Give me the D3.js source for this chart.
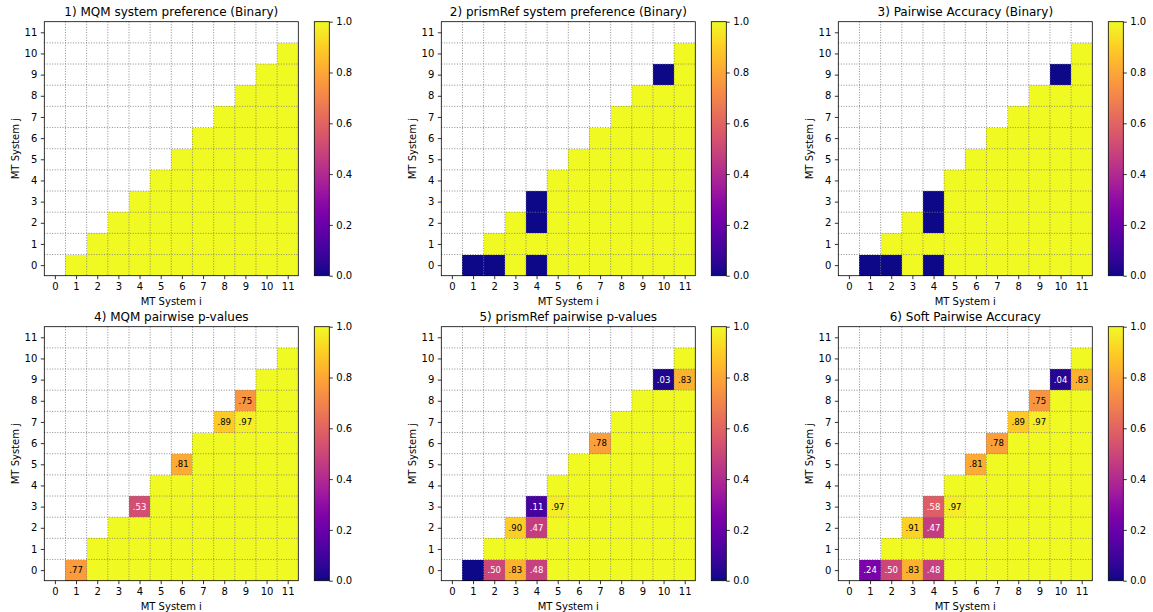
<!DOCTYPE html>
<html>
<head>
<meta charset="utf-8">
<script src="https://cdn.jsdelivr.net/npm/d3@7"></script>
<style>
  body { margin: 0; background: #fff; }
  svg { display: block; }
  text { font-family: "DejaVu Sans", sans-serif; fill: #000; }
</style>
</head>
<body>
<svg id="chart" width="1153" height="612"></svg>
<script>
// ---------------- DATA ----------------
// Each panel: rows j = 0..10; row j holds values for i = j+1 .. 11
const tickLabels = ["0","1","2","3","4","5","6","7","8","9","10","11"];
const colorbarTicks = [0.0, 0.2, 0.4, 0.6, 0.8, 1.0];
const titles = [
  "1) MQM system preference (Binary)",
  "2) prismRef system preference (Binary)",
  "3) Pairwise Accuracy (Binary)",
  "4) MQM pairwise p-values",
  "5) prismRef pairwise p-values",
  "6) Soft Pairwise Accuracy"
];
const xLabel = "MT System i";
const yLabel = "MT System j";

const mqmBinary = [
  [1,1,1,1,1,1,1,1,1,1,1],
  [1,1,1,1,1,1,1,1,1,1],
  [1,1,1,1,1,1,1,1,1],
  [1,1,1,1,1,1,1,1],
  [1,1,1,1,1,1,1],
  [1,1,1,1,1,1],
  [1,1,1,1,1],
  [1,1,1,1],
  [1,1,1],
  [1,1],
  [1]
];
const prismBinary = [
  [0,0,1,0,1,1,1,1,1,1,1],
  [1,1,1,1,1,1,1,1,1,1],
  [1,0,1,1,1,1,1,1,1],
  [0,1,1,1,1,1,1,1],
  [1,1,1,1,1,1,1],
  [1,1,1,1,1,1],
  [1,1,1,1,1],
  [1,1,1,1],
  [1,1,1],
  [0,1],
  [1]
];
const pairwiseBinary = [
  [0,0,1,0,1,1,1,1,1,1,1],
  [1,1,1,1,1,1,1,1,1,1],
  [1,0,1,1,1,1,1,1,1],
  [0,1,1,1,1,1,1,1],
  [1,1,1,1,1,1,1],
  [1,1,1,1,1,1],
  [1,1,1,1,1],
  [1,1,1,1],
  [1,1,1],
  [0,1],
  [1]
];
const mqmPValues = [
  [0.77,1,1,1,1,1,1,1,1,1,1],
  [1,1,1,1,1,1,1,1,1,1],
  [1,1,1,1,1,1,1,1,1],
  [0.53,1,1,1,1,1,1,1],
  [1,1,1,1,1,1,1],
  [0.81,1,1,1,1,1],
  [1,1,1,1,1],
  [0.89,0.97,1,1],
  [0.75,1,1],
  [1,1],
  [1]
];
const prismPValues = [
  [0.00,0.50,0.83,0.48,1,1,1,1,1,1,1],
  [1,1,1,1,1,1,1,1,1,1],
  [0.90,0.47,1,1,1,1,1,1,1],
  [0.11,0.97,1,1,1,1,1,1],
  [1,1,1,1,1,1,1],
  [1,1,1,1,1,1],
  [0.78,1,1,1,1],
  [1,1,1,1],
  [1,1,1],
  [0.03,0.83],
  [1]
];
const softPairwise = [
  [0.24,0.50,0.83,0.48,1,1,1,1,1,1,1],
  [1,1,1,1,1,1,1,1,1,1],
  [0.91,0.47,1,1,1,1,1,1,1],
  [0.58,0.97,1,1,1,1,1,1],
  [1,1,1,1,1,1,1],
  [0.81,1,1,1,1,1],
  [0.78,1,1,1,1],
  [0.89,0.97,1,1],
  [0.75,1,1],
  [0.04,0.83],
  [1]
];
const panelData = [mqmBinary, prismBinary, pairwiseBinary, mqmPValues, prismPValues, softPairwise];
const annotate = [false, false, false, true, true, true];

// ---------------- LAYOUT ----------------
const svg = d3.select("#chart");
const plotSize = 254;
const lefts = [44.3, 441.3, 838.3];
const tops = [21.7, 326.7];
const cbGap = 16, cbWidth = 15;
const color = d3.scaleSequential(d3.interpolatePlasma).domain([0, 1]);

// gradient for colorbar
const defs = svg.append("defs");
const grad = defs.append("linearGradient").attr("id", "plasmaGrad")
  .attr("x1", 0).attr("y1", 1).attr("x2", 0).attr("y2", 0);
d3.range(0, 1.0001, 0.02).forEach(t => {
  grad.append("stop").attr("offset", t).attr("stop-color", color(t));
});

function fmt(v) {
  return d3.format(".2f")(v).replace(/^0/, "");
}

panelData.forEach((rows, p) => {
  const left = lefts[p % 3], top = tops[Math.floor(p / 3)];
  const g = svg.append("g").attr("transform", `translate(${left},${top})`);
  const x = d3.scaleLinear().domain([-0.5, 11.5]).range([0, plotSize]);
  const y = d3.scaleLinear().domain([-0.5, 11.5]).range([plotSize, 0]);

  const cells = [];
  rows.forEach((row, j) => row.forEach((v, k) => cells.push({ i: j + 1 + k, j: j, v: v })));

  g.selectAll("rect.cell").data(cells).enter().append("rect")
    .attr("class", "cell")
    .attr("x", d => x(d.i - 0.5))
    .attr("y", d => y(d.j + 0.5))
    .attr("width", d => x(d.i + 0.5) - x(d.i - 0.5))
    .attr("height", d => y(d.j - 0.5) - y(d.j + 0.5))
    .attr("fill", d => color(d.v))
    .attr("shape-rendering", "crispEdges");

  // dotted grid at cell boundaries
  const bounds = d3.range(0, 11).map(k => k + 0.5);
  g.selectAll("line.gx").data(bounds).enter().append("line")
    .attr("x1", d => x(d)).attr("x2", d => x(d))
    .attr("y1", 0).attr("y2", plotSize)
    .attr("stroke", "#808080").attr("stroke-width", 0.9)
    .attr("stroke-dasharray", "1,1.6");
  g.selectAll("line.gy").data(bounds).enter().append("line")
    .attr("y1", d => y(d)).attr("y2", d => y(d))
    .attr("x1", 0).attr("x2", plotSize)
    .attr("stroke", "#808080").attr("stroke-width", 0.9)
    .attr("stroke-dasharray", "1,1.6");

  if (annotate[p]) {
    g.selectAll("text.ann").data(cells.filter(d => d.v > 0.005 && d.v < 0.995)).enter().append("text")
      .attr("x", d => x(d.i))
      .attr("y", d => y(d.j))
      .attr("dy", "0.35em")
      .attr("text-anchor", "middle")
      .style("font-size", "8.5px")
      .style("fill", d => d.v < 0.65 ? "#ffffff" : "#000000")
      .text(d => fmt(d.v));
  }

  // frame
  g.append("rect").attr("x", 0).attr("y", 0).attr("width", plotSize).attr("height", plotSize)
    .attr("fill", "none").attr("stroke", "#000").attr("stroke-width", 0.8);

  // axes
  const xAxis = d3.axisBottom(x).tickValues(d3.range(12)).tickFormat((d, k) => tickLabels[k])
    .tickSize(3.5).tickPadding(3.5);
  const yAxis = d3.axisLeft(y).tickValues(d3.range(12)).tickFormat((d, k) => tickLabels[k])
    .tickSize(3.5).tickPadding(3.5);
  const gx = g.append("g").attr("transform", `translate(0,${plotSize})`).call(xAxis);
  const gy = g.append("g").call(yAxis);
  [gx, gy].forEach(a => {
    a.select(".domain").remove();
    a.selectAll(".tick line").attr("stroke", "#000").attr("stroke-width", 0.8);
    a.selectAll(".tick text").style("font-size", "10px").style("font-family", "DejaVu Sans").attr("fill", "#000");
  });

  // labels
  g.append("text").attr("x", plotSize / 2).attr("y", plotSize + 29)
    .attr("text-anchor", "middle").style("font-size", "10px").text(xLabel);
  g.append("text").attr("transform", `translate(${-25.5},${plotSize / 2}) rotate(-90)`)
    .attr("text-anchor", "middle").style("font-size", "10px").text(yLabel);
  g.append("text").attr("x", plotSize / 2).attr("y", -6)
    .attr("text-anchor", "middle").style("font-size", "12px").text(titles[p]);

  // colorbar
  const cb = g.append("g").attr("transform", `translate(${plotSize + cbGap},0)`);
  cb.append("rect").attr("width", cbWidth).attr("height", plotSize).attr("fill", "url(#plasmaGrad)");
  cb.append("rect").attr("width", cbWidth).attr("height", plotSize)
    .attr("fill", "none").attr("stroke", "#000").attr("stroke-width", 0.8);
  const cbScale = d3.scaleLinear().domain([0, 1]).range([plotSize, 0]);
  const cbAxis = d3.axisRight(cbScale).tickValues(colorbarTicks).tickFormat(d3.format(".1f"))
    .tickSize(3.5).tickPadding(3.5);
  const gcb = cb.append("g").attr("transform", `translate(${cbWidth},0)`).call(cbAxis);
  gcb.select(".domain").remove();
  gcb.selectAll(".tick line").attr("stroke", "#000").attr("stroke-width", 0.8);
  gcb.selectAll(".tick text").style("font-size", "10px").style("font-family", "DejaVu Sans").attr("fill", "#000");
});
</script>
</body>
</html>
